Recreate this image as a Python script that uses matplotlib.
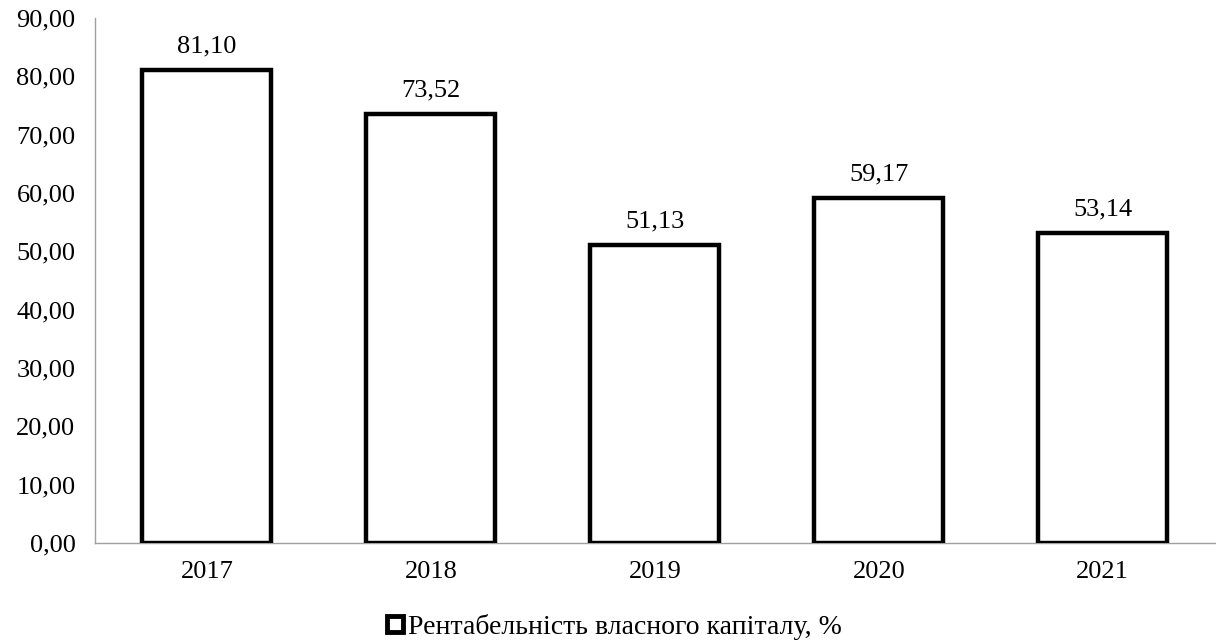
import matplotlib
matplotlib.use("Agg")
import matplotlib.pyplot as plt
from matplotlib.lines import Line2D

plt.rcParams['font.family'] = ['Liberation Serif', 'DejaVu Serif']

years = ['2017', '2018', '2019', '2020', '2021']
roe = [81.10, 73.52, 51.13, 59.17, 53.14]
series_name = 'Рентабельність власного капіталу, %'

fig = plt.figure(figsize=(12.16, 6.43), dpi=100)
ax = fig.add_axes([0.078, 0.1555, 0.921, 0.8165])

x = range(len(years))
bars = ax.bar(x, roe, width=0.575, facecolor='white', edgecolor='black',
              linewidth=3.2, zorder=3)

for xi, v in zip(x, roe):
    ax.annotate(f'{v:.2f}'.replace('.', ','), (xi, v), xytext=(0, 9),
                textcoords='offset points', ha='center', va='bottom', fontsize=19)

ax.set_xlim(-0.5, len(years) - 0.5)
ax.set_ylim(0, 90)
ax.set_yticks(range(0, 91, 10))
ax.set_yticklabels([f'{t:.2f}'.replace('.', ',') for t in range(0, 91, 10)], fontsize=19)
ax.set_xticks(list(x))
ax.set_xticklabels(years, fontsize=19)
ax.tick_params(axis='y', length=0, pad=14)
ax.tick_params(axis='x', length=0, pad=13)

for s in ['top', 'right']:
    ax.spines[s].set_visible(False)
for s in ['left', 'bottom']:
    ax.spines[s].set_color('#a0a0a0')
    ax.spines[s].set_linewidth(1.0)

handle = Line2D([], [], marker='s', linestyle='none', markersize=11,
                markerfacecolor='white', markeredgecolor='black', markeredgewidth=3.5)
fig.legend([handle], [series_name], loc='center', bbox_to_anchor=(0.504, 0.025),
           frameon=False, fontsize=20, handletextpad=0.05, handlelength=0.8)

fig.savefig('out.png', dpi=100)
